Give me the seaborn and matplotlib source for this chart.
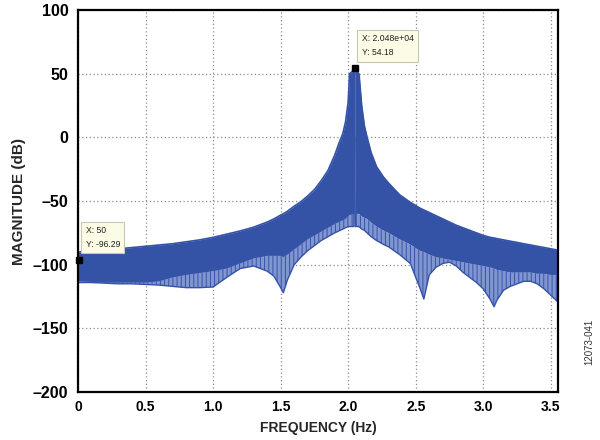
import seaborn as sns
import matplotlib.pyplot as plt

# spectrum: upper envelope, bottom of the solid band,
# bottom of the stems (freq in units of 10^4 Hz as on the axis)
left_freq = [0.0, 0.1, 0.2, 0.3, 0.4, 0.5, 0.6, 0.7, 0.8, 0.9, 1.0, 1.1, 1.2, 1.3, 1.4, 1.45,
             1.5, 1.52, 1.55, 1.6, 1.65, 1.7, 1.75, 1.8, 1.85, 1.9, 1.93, 1.96, 1.98, 2.0, 2.01,
             2.043, 2.048]
left_upper = [-90, -89.5, -88.5, -87.5, -86.5, -85.5, -84.5, -83.5, -82, -80.5, -78.5, -76, -73.5,
              -70.5, -66.5, -64, -61, -60, -58, -54, -50.5, -46, -41, -34, -26, -14, -5, 3, 12,
              28, 50, 53, 54.18]
left_solid = [-113, -113.5, -114, -114, -114, -114, -113, -110, -108, -106.5, -105, -103, -99,
              -95, -93, -93, -93, -94, -92, -88, -84, -80, -77, -74, -71, -68, -66.5, -65, -64,
              -62, -61, -60, 0]
left_floor = [-114, -114, -114.5, -115, -115, -115.5, -116, -117, -118, -118, -117.5, -110, -103,
              -101, -105, -109, -118, -122, -112, -100, -94, -89, -85, -81, -78, -75, -73.5, -72,
              -71, -70, -70, -70, 0]

right_freq = [2.048, 2.053, 2.08, 2.1, 2.12, 2.14, 2.17, 2.21, 2.26, 2.3, 2.38, 2.46, 2.5, 2.53,
              2.56, 2.6, 2.65, 2.7, 2.75, 2.8, 2.85, 2.9, 2.95, 3.0, 3.05, 3.08, 3.1, 3.15, 3.2,
              3.25, 3.3, 3.35, 3.4, 3.45, 3.5, 3.55]
right_upper = [54.18, 53, 50, 25, 9, 0, -12, -23, -31, -36, -45, -51, -53.5, -55.5, -57, -59,
               -61.5, -64, -66.5, -69, -71, -73, -75, -77, -78.5, -79, -79.5, -80.5, -81.5,
               -82.5, -83.5, -84.5, -85.5, -86.5, -87.5, -88.5]
right_solid = [0, -60, -60, -62, -63, -64, -67, -70, -73, -75, -80, -84, -87, -89, -90, -92, -94,
               -95, -96, -97, -98, -99, -100, -101, -102, -103, -104, -105, -106, -106, -106,
               -106, -107, -107, -108, -108]
right_floor = [0, -70, -70, -72, -73, -75, -78, -81, -84, -86, -92, -99, -110, -118, -127, -108,
               -102, -99, -98, -101, -106, -110, -114, -119, -127, -133, -128, -120, -117, -115,
               -113, -113, -115, -119, -124, -129]

# data tips (x in Hz, y in dB)
tip_x = [20480, 50]
tip_y = [54.18, -96.29]
tip_xtext = ["2.048e+04", "50"]

x_ticks = [0, 0.5, 1.0, 1.5, 2.0, 2.5, 3.0, 3.5]
x_labels = ["0", "0.5", "1.0", "1.5", "2.0", "2.5", "3.0", "3.5"]
y_ticks = [-200, -150, -100, -50, 0, 50, 100]
y_labels = ["\u2013200", "\u2013150", "\u2013100", "\u201350", "0", "50", "100"]

sns.set_style("white")
plt.rcParams["font.family"] = ["Liberation Sans", "DejaVu Sans"]
plt.rcParams["hatch.linewidth"] = 0.7

blue = "#3553a6"
pale = "#8196d0"

fig = plt.figure(figsize=(6, 4.4), dpi=100)
ax = fig.add_axes([0.13, 0.109, 0.80, 0.868])

for fx, up, sol, flo in [(left_freq, left_upper, left_solid, left_floor),
                         (right_freq, right_upper, right_solid, right_floor)]:
    ax.fill_between(fx, sol, up, color=blue, linewidth=0)
    ax.fill_between(fx, flo, sol, facecolor=pale, edgecolor=blue, hatch="||||", linewidth=0)
    sns.lineplot(x=fx, y=up, color=blue, linewidth=1.2, ax=ax)
    sns.lineplot(x=fx, y=flo, color=blue, linewidth=1.0, ax=ax)

ax.set_xlim(0, 3.553)
ax.set_ylim(-200, 100)
ax.set_xticks(x_ticks)
ax.set_xticklabels(x_labels, fontsize=10)
ax.set_yticks(y_ticks)
ax.set_yticklabels(y_labels, fontsize=11.5)
ax.grid(True, color="#8c8c8c", linestyle=(0, (1, 2)), linewidth=0.9)
ax.set_axisbelow(True)
ax.tick_params(direction="in", length=3, width=0.8, colors="#777777", labelcolor="black")
ax.tick_params(axis="x", pad=6)
ax.tick_params(axis="y", pad=7)
for lab in ax.get_xticklabels() + ax.get_yticklabels():
    lab.set_fontweight("bold")
for s in ax.spines.values():
    s.set_color("black")
    s.set_linewidth(1.6)

ax.set_xlabel("FREQUENCY (Hz)", fontsize=10, fontweight="bold", labelpad=5)
ax.set_ylabel("MAGNITUDE (dB)", fontsize=11, fontweight="bold", labelpad=5)

# data tips
tip_box = dict(boxstyle="square,pad=0.5", facecolor="#fbfbe6", edgecolor="#c8c8b0", linewidth=0.8)
for tx, ty, xs in zip(tip_x, tip_y, tip_xtext):
    ax.plot(tx / 1e4, ty, marker="s", markersize=5, color="black", clip_on=False, zorder=5)
    ax.annotate(f"X: {xs}\nY: {ty:.2f}", xy=(tx / 1e4, ty), xytext=(5, 8),
                textcoords="offset points", fontsize=6.2, linespacing=1.7, color="#222222",
                bbox=tip_box, ha="left", va="bottom", zorder=6)

fig.text(0.983, 0.17, "12073-041", rotation=90, fontsize=7, color="#333333",
         ha="center", va="bottom")

fig.savefig("out.png", dpi=100)
